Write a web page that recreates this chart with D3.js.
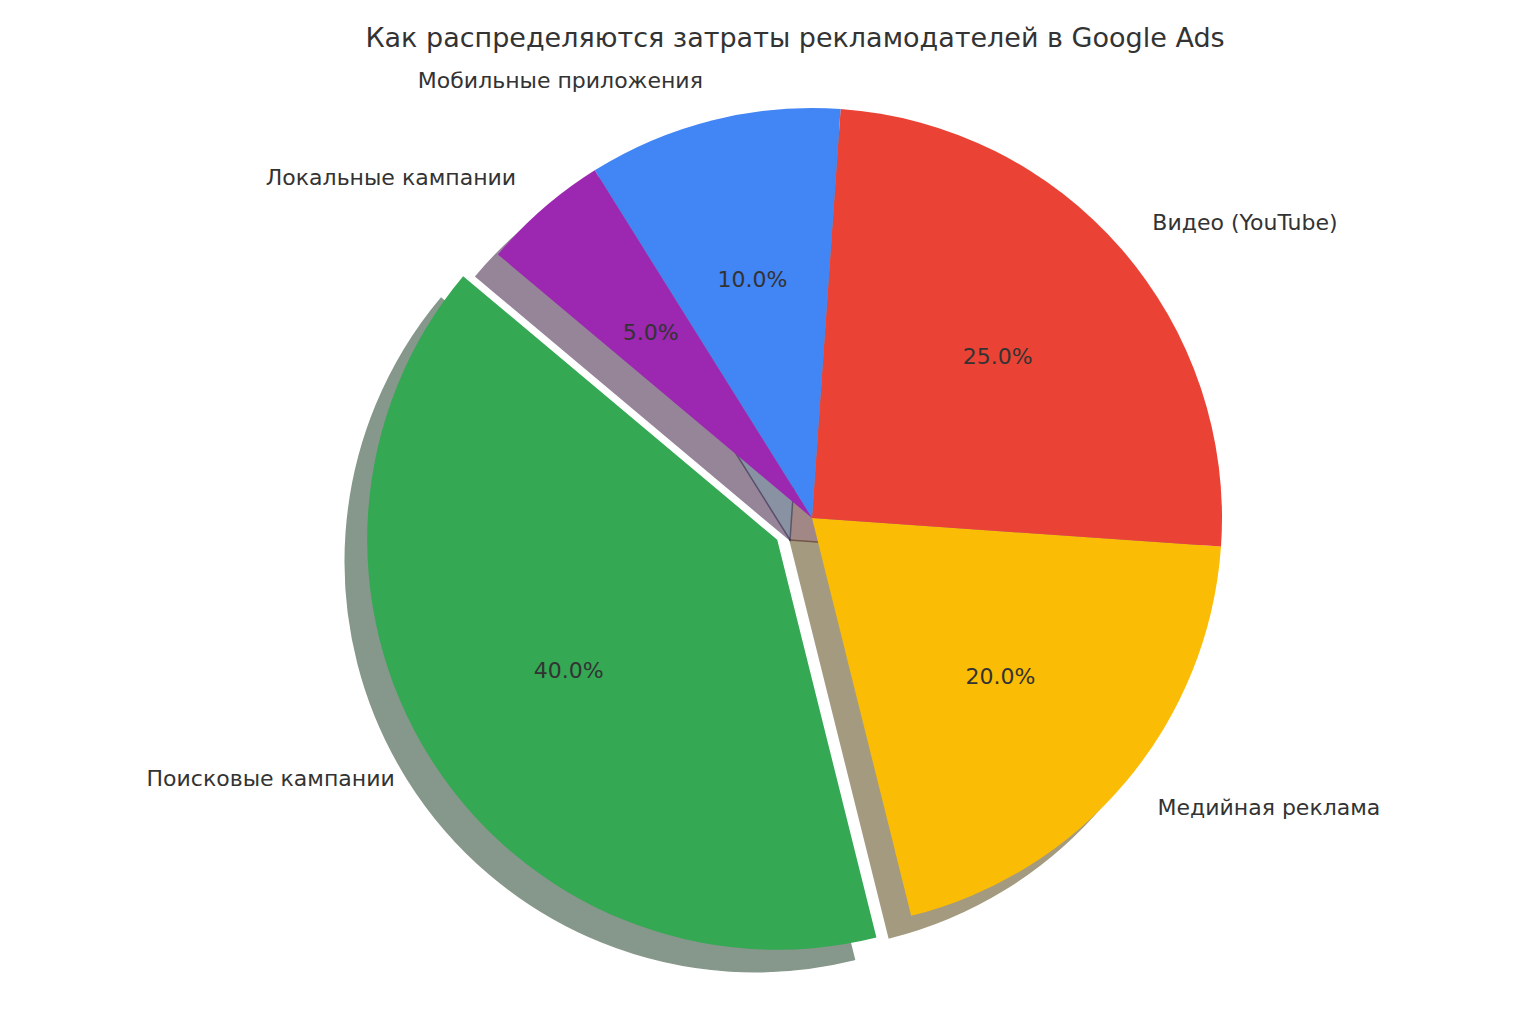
<!DOCTYPE html>
<html><head><meta charset="utf-8">
<script src="https://cdn.jsdelivr.net/npm/d3@7"></script>
<style>body{margin:0;background:#fff}</style>
</head><body>
<script>
var labels = ['Поисковые кампании','Медийная реклама','Видео (YouTube)','Мобильные приложения','Локальные кампании'];
var values = [40, 20, 25, 10, 5];
var colors = ['#34A853','#FBBC05','#EA4335','#4285F4','#9C27B0'];
var explode = [0.1, 0, 0, 0, 0];

var W = 1514, H = 1010, cx = 812, cy = 518, R = 410, startDeg = 140;
var svg = d3.select('body').append('svg').attr('width', W).attr('height', H)
  .style('font-family', 'DejaVu Sans, sans-serif');

var total = d3.sum(values);
var angle = d3.scaleLinear().domain([0, total]).range([startDeg, startDeg + 360]);
var cum = 0;
var slices = values.map(function(v, i) {
  var s = {i: i, t1: angle(cum), t2: angle(cum + v), v: v};
  cum += v;
  s.mid = (s.t1 + s.t2) / 2 * Math.PI / 180;
  s.ox = cx + Math.cos(s.mid) * explode[i] * R;
  s.oy = cy - Math.sin(s.mid) * explode[i] * R;
  return s;
});
var arc = d3.arc().innerRadius(0).outerRadius(R)
  .startAngle(function(d) { return (90 - d.t1) * Math.PI / 180; })
  .endAngle(function(d) { return (90 - d.t2) * Math.PI / 180; });

function shade(c) { var k = d3.rgb(c); return d3.rgb(k.r * 0.3, k.g * 0.3, k.b * 0.3); }

// shadows under everything
svg.append('g').selectAll('path').data(slices).enter().append('path')
  .attr('d', arc)
  .attr('transform', function(d) { return 'translate(' + (d.ox - 22) + ',' + (d.oy + 22) + ')'; })
  .attr('fill', function(d) { return shade(colors[d.i]); })
  .attr('stroke', function(d) { return shade(colors[d.i]); })
  .attr('stroke-width', 1.5)
  .attr('opacity', 0.5);

svg.append('g').selectAll('path').data(slices).enter().append('path')
  .attr('d', arc)
  .attr('transform', function(d) { return 'translate(' + d.ox + ',' + d.oy + ')'; })
  .attr('fill', function(d) { return colors[d.i]; });

// category labels
svg.append('g').selectAll('text').data(slices).enter().append('text')
  .attr('x', function(d) { return d.ox + Math.cos(d.mid) * 1.1 * R; })
  .attr('y', function(d) { return d.oy - Math.sin(d.mid) * 1.1 * R; })
  .attr('text-anchor', function(d) { return Math.cos(d.mid) > 0 ? 'start' : 'end'; })
  .attr('dominant-baseline', 'central')
  .attr('font-size', 22).attr('fill', '#333')
  .text(function(d) { return labels[d.i]; });

// percentages
svg.append('g').selectAll('text').data(slices).enter().append('text')
  .attr('x', function(d) { return d.ox + Math.cos(d.mid) * 0.6 * R; })
  .attr('y', function(d) { return d.oy - Math.sin(d.mid) * 0.6 * R; })
  .attr('text-anchor', 'middle')
  .attr('dominant-baseline', 'central')
  .attr('font-size', 22).attr('fill', '#333')
  .text(function(d) { return (d.v / total * 100).toFixed(1) + '%'; });

svg.append('text').attr('x', 795).attr('y', 37).attr('text-anchor', 'middle')
  .attr('dominant-baseline', 'central')
  .attr('font-size', 27).attr('fill', '#333')
  .text('Как распределяются затраты рекламодателей в Google Ads');
</script>
</body></html>
